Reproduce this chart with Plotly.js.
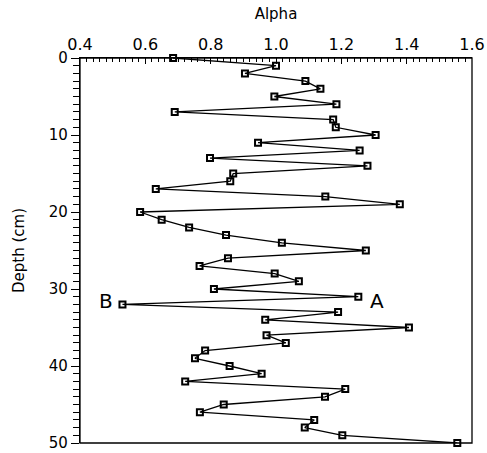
<!DOCTYPE html>
<html>
<head>
<meta charset="utf-8">
<script src="https://cdn.plot.ly/plotly-3.0.1.min.js"></script>
<style>html,body{margin:0;padding:0;background:#fff;}#chart{width:487px;height:453px;}</style>
</head>
<body>
<div id="chart"></div>
<script>
const depth = [0,1,2,3,4,5,6,7,8,9,10,11,12,13,14,15,16,17,18,19,20,21,22,23,24,25,26,27,28,29,30,31,32,33,34,35,36,37,38,39,40,41,42,43,44,45,46,47,48,49,50];
const alpha = [0.685,1.0,0.905,1.09,1.136,0.995,1.185,0.69,1.175,1.183,1.305,0.945,1.256,0.798,1.28,0.869,0.86,0.632,1.151,1.379,0.584,0.65,0.734,0.847,1.018,1.275,0.853,0.766,0.996,1.07,0.81,1.252,0.53,1.19,0.967,1.407,0.971,1.03,0.783,0.752,0.858,0.956,0.722,1.212,1.15,0.84,0.767,1.117,1.088,1.203,1.555];
const xTicks = [0.4,0.6,0.8,1.0,1.2,1.4,1.6];
const xTickText = ["0.4","0.6","0.8","1.0","1.2","1.4","1.6"];
const yTicks = [0,10,20,30,40,50];
const labels = [{text:"B", x:0.48, y:31.5},{text:"A", x:1.308, y:31.5}];

const font = "DejaVu Sans, sans-serif";
const trace = {
  x: alpha, y: depth, type: 'scatter', mode: 'lines+markers',
  line: {color: '#000', width: 1.3},
  marker: {symbol: 'square-open', size: 6, color: '#000', line: {color: '#000', width: 2}},
  cliponaxis: false, showlegend: false, hoverinfo: 'skip'
};
const layout = {
  width: 487, height: 453,
  margin: {l: 80, r: 15, t: 58, b: 10},
  paper_bgcolor: '#fff', plot_bgcolor: '#fff',
  font: {family: font, size: 16, color: '#000'},
  xaxis: {
    side: 'top', range: [0.4, 1.6], tickmode: 'array', tickvals: xTicks, ticktext: xTickText,
    ticks: 'inside', ticklen: 6, tickwidth: 1.3, tickcolor: 'black',
    minor: {tickmode: 'linear', tick0: 0.4, dtick: 0.02, ticks: 'inside', ticklen: 3.5, tickwidth: 1, tickcolor: 'black'},
    showline: true, linecolor: 'black', linewidth: 1.3,
    showgrid: false, zeroline: false, ticklabeloverflow: 'allow',
    tickfont: {size: 16},
    title: {text: 'Alpha', standoff: 12, font: {size: 15}}
  },
  yaxis: {
    range: [50, 0], tickmode: 'array', tickvals: yTicks,
    ticks: 'outside', ticklen: 8, tickwidth: 1.3, tickcolor: 'black',
    minor: {tickmode: 'linear', tick0: 0, dtick: 1, ticks: 'outside', ticklen: 6, tickwidth: 1.2, tickcolor: 'black'},
    showline: true, linecolor: 'black', linewidth: 1.3,
    showgrid: false, zeroline: false, ticklabeloverflow: 'allow',
    tickfont: {size: 15},
    title: {text: 'Depth (cm)', standoff: 20, font: {size: 15}}
  },
  shapes: [{type: 'rect', xref: 'paper', yref: 'paper', x0: 0, x1: 1, y0: 0, y1: 1, line: {color: 'black', width: 1.3}}],
  annotations: labels.map(l => ({x: l.x, y: l.y, xref: 'x', yref: 'y', text: l.text, showarrow: false,
    font: {size: 20, color: '#000'}}))
};
Plotly.newPlot('chart', [trace], layout, {displayModeBar: false});
</script>
</body>
</html>
